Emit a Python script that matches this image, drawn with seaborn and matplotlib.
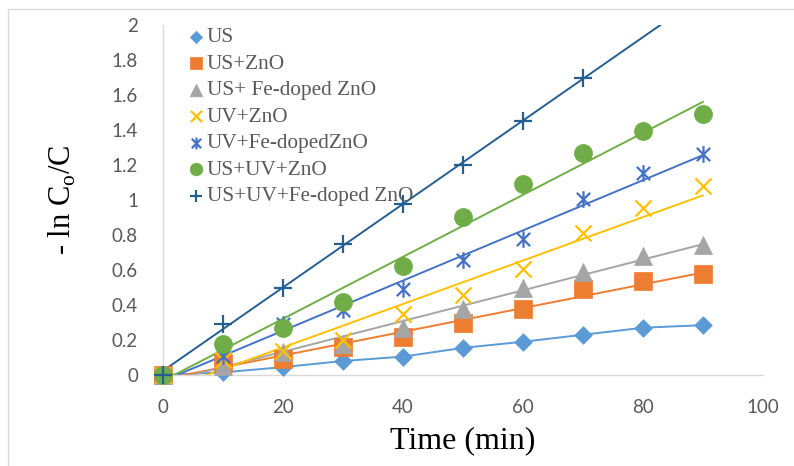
import numpy as np
import matplotlib
matplotlib.use("Agg")
import matplotlib.pyplot as plt
import seaborn as sns
from matplotlib.path import Path
from matplotlib.patches import Rectangle
from matplotlib.font_manager import FontProperties

# Reaction time (min) and -ln(C0/C) for each treatment
time_min = [0, 10, 20, 30, 40, 50, 60, 70, 80, 90]
us = [0, 0.015, 0.045, 0.08, 0.105, 0.155, 0.19, 0.23, 0.27, 0.285]
us_zno = [0, 0.07, 0.09, 0.16, 0.215, 0.295, 0.38, 0.49, 0.535, 0.575]
us_fe_zno = [0, 0.05, 0.13, 0.18, 0.27, 0.38, 0.50, 0.59, 0.68, 0.745]
uv_zno = [0, 0.085, 0.14, 0.20, 0.35, 0.455, 0.605, 0.81, 0.955, 1.08]
uv_fe_zno = [0, 0.11, 0.29, 0.37, 0.49, 0.655, 0.775, 1.005, 1.155, 1.265]
us_uv_zno = [0, 0.18, 0.27, 0.415, 0.625, 0.905, 1.09, 1.27, 1.395, 1.49]
us_uv_fe_zno = [0, 0.29, 0.50, 0.75, 0.975, 1.20, 1.45, 1.70]

labels = ["US", "US+ZnO", "US+ Fe-doped ZnO", "UV+ZnO",
          "UV+Fe-dopedZnO", "US+UV+ZnO", "US+UV+Fe-doped ZnO"]
x_ticks = [0, 20, 40, 60, 80, 100]
y_ticks = [0, 0.2, 0.4, 0.6, 0.8, 1, 1.2, 1.4, 1.6, 1.8, 2]

# Six-armed star: a vertical stroke plus an X
star = Path([(0, -1), (0, 1), (-0.8, -0.8), (0.8, 0.8), (-0.8, 0.8), (0.8, -0.8)],
            [Path.MOVETO, Path.LINETO, Path.MOVETO, Path.LINETO, Path.MOVETO, Path.LINETO])

series = [
    (us, "#5B9BD5", "D", 9.0, True),
    (us_zno, "#ED7D31", "s", 12.5, True),
    (us_fe_zno, "#A5A5A5", "^", 13.0, True),
    (uv_zno, "#FFC000", "x", 11.5, False),
    (uv_fe_zno, "#4472C4", star, 12.0, False),
    (us_uv_zno, "#70AD47", "o", 13.0, True),
    (us_uv_fe_zno, "#255E91", "+", 12.5, False),
]

sns.set_style("white")
plt.rcParams["mathtext.fontset"] = "custom"
plt.rcParams["mathtext.rm"] = "Liberation Serif"

fig = plt.figure(figsize=(7.94, 4.66), dpi=100)
W, H = 794, 466
ax = fig.add_axes([163 / W, 1 - 375 / H, 600 / W, 350 / H])

# Outer chart border (left and top edges visible)
fig.add_artist(Rectangle((8 / W, -0.2), 1.5, 1 - 9 / H + 0.2, transform=fig.transFigure,
                         fill=False, edgecolor="#D9D9D9", linewidth=1.0))

x_fit = np.array([time_min[0], time_min[-1]], dtype=float)
handles = []
for i, (vals, color, marker, ms, filled) in enumerate(series):
    xs = time_min[:len(vals)]
    if i == 0:
        sns.lineplot(x=xs, y=vals, color=color, linewidth=1.4, ax=ax, legend=False)
    else:
        slope, intercept = np.polyfit(xs, vals, 1)
        sns.lineplot(x=x_fit, y=slope * x_fit + intercept, color=color,
                     linewidth=1.4, ax=ax, legend=False)
    kw = dict(edgecolor=color, linewidth=1.6 if not filled else 0.5)
    sns.scatterplot(x=xs, y=vals, marker=marker, color=color, s=ms ** 2,
                    ax=ax, clip_on=False, zorder=3 + i, legend=False, **kw)
    handles.append(ax.collections[-1])

ax.set_xlim(0, 100)
ax.set_ylim(0, 2)
ax.set_xticks(x_ticks)
ax.set_yticks(y_ticks)
ax.set_xticklabels([f"{v:g}" for v in x_ticks])
ax.set_yticklabels([f"{v:g}" for v in y_ticks])
for lab in ax.get_xticklabels() + ax.get_yticklabels():
    lab.set_fontfamily("Lato")
    lab.set_fontsize(13.5)
    lab.set_color("#595959")
ax.tick_params(axis="both", length=0)
ax.tick_params(axis="x", pad=17)
ax.tick_params(axis="y", pad=18)

for side in ("top", "right"):
    ax.spines[side].set_visible(False)
for side in ("left", "bottom"):
    ax.spines[side].set_color("#D9D9D9")
    ax.spines[side].set_linewidth(1.0)

ax.set_xlabel("Time (min)", fontfamily="Liberation Serif", fontsize=23, color="black")
ax.xaxis.set_label_coords(0.5, (375 - 441) / 350)
ax.xaxis.label.set_va("center")
ax.set_ylabel("- ln C$_\\mathrm{o}$/C", fontfamily="Liberation Serif", fontsize=22, color="black")
ax.yaxis.set_label_coords((62 - 163) / 600, (375 - 200) / 350)
ax.yaxis.label.set_va("center")

leg = ax.legend(handles, labels, loc="upper left", bbox_to_anchor=(0.041, 0.993),
                frameon=False, handlelength=0.8, handletextpad=0.1, labelspacing=0.31,
                borderaxespad=0, borderpad=0, scatterpoints=1, markerscale=0.7,
                prop=FontProperties(family="Liberation Serif", size=15.3))
for t in leg.get_texts():
    t.set_color("#595959")

fig.savefig("out.png", dpi=100, facecolor="white")
